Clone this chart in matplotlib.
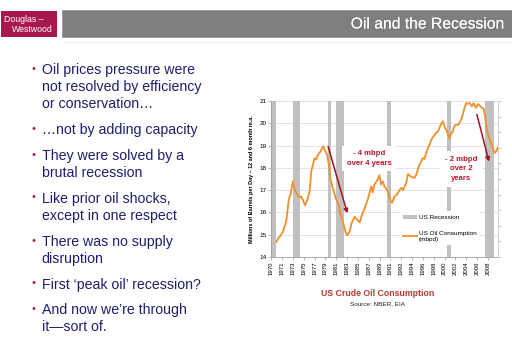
import matplotlib
matplotlib.use("Agg")
import matplotlib.pyplot as plt
from matplotlib.patches import Patch, Rectangle
from matplotlib.lines import Line2D
import matplotlib.patheffects as pe

plt.rcParams['font.family'] = ['Liberation Sans', 'DejaVu Sans']

# ---------------- data ----------------
years = [1970.9, 1971.3, 1971.7, 1972.1, 1972.4, 1972.7, 1973.1, 1973.4, 1973.85, 1974.15,
         1974.6, 1975.0, 1975.3, 1975.6, 1976.0, 1976.4, 1976.8, 1977.1, 1977.4, 1977.7,
         1978.0, 1978.3, 1978.75, 1979.2, 1979.5, 1979.9, 1980.2, 1980.5, 1980.9, 1981.2,
         1981.5, 1981.9, 1982.2, 1982.5, 1982.9, 1983.2, 1983.5, 1983.9, 1984.3, 1984.8,
         1985.25, 1985.7, 1986.1, 1986.6, 1987.15, 1987.75, 1988.0, 1988.3, 1988.8, 1989.2,
         1989.5, 1989.8, 1990.1, 1990.7, 1991.2, 1991.45, 1991.9, 1992.3, 1992.8, 1993.1,
         1993.4, 1993.65, 1993.95, 1994.25, 1994.5, 1994.8, 1995.4, 1995.7, 1996.0, 1996.3,
         1996.6, 1996.9, 1997.2, 1997.5, 1997.8, 1998.1, 1998.4, 1999.0, 1999.6, 2000.1,
         2000.45, 2000.85, 2001.2, 2001.6, 2001.9, 2002.2, 2002.5, 2002.8, 2003.1, 2003.4,
         2003.7, 2004.0, 2004.3, 2004.6, 2004.9, 2005.2, 2005.6, 2005.9, 2006.35, 2006.7,
         2007.1, 2007.45, 2007.7, 2007.9, 2008.2, 2008.5, 2008.8, 2009.1, 2009.4, 2009.65,
         2009.95, 2010.2]
consumption = [14.68, 14.85, 14.98, 15.16, 15.40, 15.68, 16.57, 16.80, 17.40, 17.02,
               16.80, 16.68, 16.72, 16.57, 16.32, 16.57, 16.95, 17.85, 18.14, 18.44,
               18.38, 18.60, 18.74, 18.97, 18.80, 18.60, 18.14, 17.50, 17.10, 16.85,
               16.60, 16.40, 16.00, 15.75, 15.40, 15.10, 14.97, 15.15, 15.55, 15.80,
               15.68, 15.55, 15.90, 16.20, 16.60, 17.17, 16.90, 17.25, 17.45, 17.67,
               17.25, 17.40, 17.17, 16.95, 16.50, 16.43, 16.73, 16.80, 17.02, 17.10,
               17.00, 17.17, 17.30, 17.72, 17.68, 17.60, 17.55, 17.67, 17.92, 18.14,
               18.28, 18.44, 18.40, 18.67, 18.89, 19.04, 19.26, 19.49, 19.64, 19.94,
               20.09, 19.79, 19.64, 19.34, 19.49, 19.64, 19.87, 19.94, 19.92, 20.01,
               20.16, 20.39, 20.69, 20.91, 20.87, 20.91, 20.76, 20.90, 20.69, 20.87,
               20.76, 20.69, 20.65, 20.39, 19.79, 19.49, 19.26, 19.04, 18.82, 18.67,
               18.74, 18.90]

recession_start = [1969.92, 1973.83, 1980.00, 1981.50, 1990.50, 2001.17, 2007.92]
recession_end   = [1970.83, 1975.17, 1980.55, 1982.83, 1991.17, 2001.83, 2009.50]

xtick_labels = ['1970', '1971', '1973', '1975', '1977', '1979', '1981', '1983', '1985',
                '1987', '1989', '1991', '1992', '1994', '1996', '1998', '2000', '2002',
                '2004', '2006', '2008']
ytick_values = [14, 15, 16, 17, 18, 19, 20, 21]

bullets = [
    ["Oil prices pressure were", "not resolved by efficiency", "or conservation\u2026"],
    ["\u2026not by adding capacity"],
    ["They were solved by a", "brutal recession"],
    ["Like prior oil shocks,", "except in one respect"],
    ["There was no supply", "disruption"],
    ["First \u2018peak oil\u2019 recession?"],
    ["And now we\u2019re through", "it\u2014sort of."],
]

# ---------------- styles ----------------
W, H = 512, 362
ORANGE = '#f0902c'
GREY_BAR = '#c0c0c0'
DARKRED = '#a3141f'
ANNOT = '#c0142c'
NAVY = '#1e1e6e'
MAGENTA = '#ad1a57'

fig = plt.figure(figsize=(W / 100, H / 100), dpi=100)
fig.patch.set_facecolor('white')

def fx(px):
    return px / W

def fy(py):
    return 1 - py / H

# header
fig.add_artist(Rectangle((fx(1), fy(36.7)), fx(56.3), (36.7 - 11) / H,
                         transform=fig.transFigure, fc='#a8184f', ec='none'))
fig.text(fx(3.5), fy(19.5), 'Douglas \u2013', color='white', fontsize=6.3,
         ha='left', va='center')
fig.text(fx(53), fy(29), 'Westwood', color='white', fontsize=6.3,
         ha='right', va='center')
fig.add_artist(Rectangle((fx(62), fy(36.7)), fx(450), (36.7 - 10) / H,
                         transform=fig.transFigure, fc='#7f7f7f', ec='#9a9a9a', lw=0.6))
fig.text(fx(505), fy(24), 'Oil and the Recession', color='white', fontsize=11.3,
         ha='right', va='center',
         path_effects=[pe.withSimplePatchShadow(offset=(0.7, -0.7), alpha=0.35),
                       pe.Normal()])
fig.add_artist(Line2D([fx(62), fx(512)], [fy(41.5), fy(41.5)],
                      transform=fig.transFigure, color='#ececec', lw=0.6))

# bullets
line_y = [[70, 86.7, 104.3], [130], [156, 173.3], [198.7, 215.7], [242.3, 259.3],
          [285], [310, 327.3]]
for blines, ys in zip(bullets, line_y):
    fig.text(fx(33.5), fy(ys[0] - 1.5), '\u2022', color=MAGENTA, fontsize=8,
             ha='center', va='center')
    for t, yy in zip(blines, ys):
        fig.text(fx(41.7), fy(yy), t, color=NAVY, fontsize=10.2,
                 ha='left', va='center')

# chart axes
ax = fig.add_axes([fx(271.3), fy(257), (498 - 271.3) / W, 156 / H])
ax.set_xlim(1970, 2010.25)
ax.set_ylim(14, 21)

for s, e in zip(recession_start, recession_end):
    ax.axvspan(s, e, color=GREY_BAR, lw=0, zorder=1)

ax.plot(years, consumption, color=ORANGE, lw=1.3, zorder=5)

ax.set_yticks(ytick_values)
ax.set_yticklabels([str(v) for v in ytick_values], fontsize=4.6)
ax.grid(axis='y', color='#dedede', lw=0.6, zorder=0)
ax.set_axisbelow(True)
step = (2008.45 - 1970) / (len(xtick_labels) - 1)
ax.set_xticks([1970 + i * step for i in range(len(xtick_labels))])
ax.set_xticklabels(xtick_labels, rotation=90, fontsize=4.3)
ax.tick_params(axis='both', length=2, width=0.5, color='#9a9a9a', pad=1.5)
for sp in ['top', 'right']:
    ax.spines[sp].set_visible(False)
for sp in ['left', 'bottom']:
    ax.spines[sp].set_color('#a0a0a0')
    ax.spines[sp].set_linewidth(0.6)
ax.set_ylabel('Millions of Barrels per Day \u2013 12 and 6 month m.a.', fontsize=4.0,
              fontweight='bold', labelpad=4)

# secondary axis (ticks only)
ax2 = ax.twinx()
ax2.set_ylim(0, 10)
ax2.set_yticks(range(0, 11))
ax2.set_yticklabels([])
ax2.tick_params(axis='y', length=2, width=0.5, color='#b0b0b0')
for sp in ['top', 'left', 'bottom']:
    ax2.spines[sp].set_visible(False)
ax2.spines['right'].set_color('#c8c8c8')
ax2.spines['right'].set_linewidth(0.6)

# annotations
ax.text(1987.35, 18.42, '- 4 mbpd\nover 4 years', color=ANNOT, fontsize=5.6,
        fontweight='bold', ha='center', va='center', linespacing=1.55, zorder=3,
        bbox=dict(boxstyle='square,pad=0.55', fc='white', ec='none'))
ax.text(2003.75, 17.95, '- 2 mbpd\nover 2\nyears', color=ANNOT, fontsize=5.6,
        fontweight='bold', ha='center', va='center', linespacing=1.55, zorder=3,
        bbox=dict(boxstyle='square,pad=0.6', fc='white', ec='none'))
ax.annotate('', xy=(1983.5, 15.96), xytext=(1980.1, 18.95), zorder=6,
            arrowprops=dict(arrowstyle='-|>', color=DARKRED, lw=1.1,
                            mutation_scale=6, shrinkA=0, shrinkB=0))
ax.annotate('', xy=(2008.65, 18.28), xytext=(2006.5, 20.4), zorder=6,
            arrowprops=dict(arrowstyle='-|>', color=DARKRED, lw=1.1,
                            mutation_scale=6, shrinkA=0, shrinkB=0))

handles = [Patch(fc=GREY_BAR, ec='none'), Line2D([], [], color=ORANGE, lw=1.3)]
leg = ax.legend(handles, ['US Recession', 'US Oil Consumption\n(mbpd)'],
                loc='upper left', bbox_to_anchor=(0.553, 0.314), fontsize=4.6,
                frameon=True, fancybox=False, framealpha=1, edgecolor='none',
                handlelength=2.1, handleheight=0.7, labelspacing=1.7,
                borderpad=0.55, handletextpad=0.3)
leg.set_zorder(7)

# chart title and source
fig.text(fx(378), fy(293.3), 'US Crude Oil Consumption', color='#b23a2e',
         fontsize=6.3, fontweight='bold', ha='center', va='center')
fig.text(fx(378), fy(303.3), 'Source: NBER, EIA', color='#222222',
         fontsize=4.6, ha='center', va='center')

fig.savefig('out.png', dpi=100)
